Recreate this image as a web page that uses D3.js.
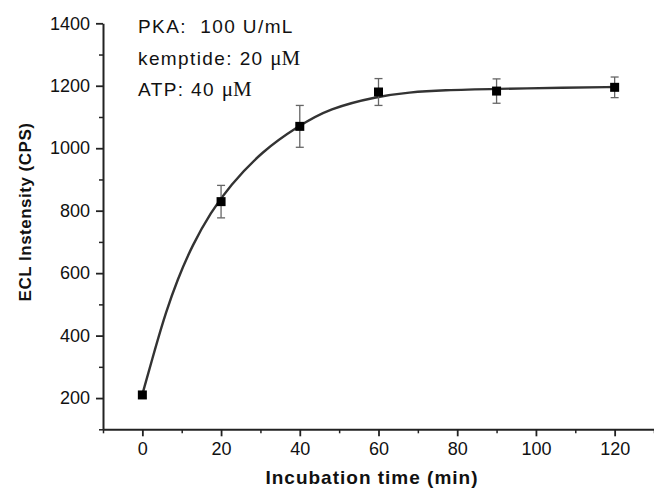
<!DOCTYPE html>
<html>
<head>
<meta charset="utf-8">
<script src="https://cdn.jsdelivr.net/npm/d3@7"></script>
<style>
  body { margin: 0; background: #fff; }
  svg { display: block; font-family: "Liberation Sans", Arial, sans-serif; }
  .axis path, .axis line { stroke: #222; }
  .axis text { font-size: 18px; fill: #111; }
</style>
</head>
<body>
<div id="chart"></div>
<script>
// measured points
var time = [0, 20, 40, 60, 90, 120];
var ecl = [210, 829, 1070, 1180, 1183, 1195];
var err = [10, 52, 67, 43, 39, 33];

// fitted curve
var fitTime = [0, 3.4, 5.9, 8.9, 12.7, 17.4, 22.1, 30.5, 39.8, 47.4, 59.7, 67.8, 76.3, 89.8, 107.6, 120];
var fitEcl = [212, 365, 472, 579, 690, 795, 878, 992, 1072, 1127, 1166, 1179, 1186, 1190, 1194, 1196];

var xTicks = [0, 20, 40, 60, 80, 100, 120];
var xMinor = [-10, 10, 30, 50, 70, 90, 110, 130];
var yTicks = [200, 400, 600, 800, 1000, 1200, 1400];
var yMinor = [100, 300, 500, 700, 900, 1100, 1300];

var notes = [
  ["PKA:  100 U/mL", ""],
  ["kemptide: 20 ", "\u03bcM"],
  ["ATP: 40 ", "\u03bcM"]
];

var width = 654, height = 488;

var svg = d3.select('#chart').append('svg')
    .attr('width', width)
    .attr('height', height);

var x = d3.scaleLinear().domain([-10, 130]).range([103, 654]);
var y = d3.scaleLinear().domain([100, 1400]).range([429.3, 23.3]);

// minor ticks first, majors drawn over
svg.append('g')
    .attr('class', 'axis')
    .attr('transform', `translate(0,${y(100)})`)
    .call(d3.axisBottom(x).tickValues(xMinor).tickSize(4).tickSizeOuter(0).tickFormat(''))
    .call(g => g.select('.domain').remove())
    .selectAll('line').attr('stroke-width', 1.5);

svg.append('g')
    .attr('class', 'axis')
    .attr('transform', `translate(${x(-10)},0)`)
    .call(d3.axisLeft(y).tickValues(yMinor).tickSize(4).tickSizeOuter(0).tickFormat(''))
    .call(g => g.select('.domain').remove())
    .selectAll('line').attr('stroke-width', 1.5);

var xAxis = svg.append('g')
    .attr('class', 'axis')
    .attr('transform', `translate(0,${y(100)})`)
    .call(d3.axisBottom(x).tickValues(xTicks).tickSize(7).tickSizeOuter(0).tickPadding(6).tickFormat(d3.format('d')));
xAxis.select('.domain').attr('stroke-width', 2);
xAxis.selectAll('line').attr('stroke-width', 1.8);

var yAxis = svg.append('g')
    .attr('class', 'axis')
    .attr('transform', `translate(${x(-10)},0)`)
    .call(d3.axisLeft(y).tickValues(yTicks).tickSize(7).tickSizeOuter(0).tickPadding(6).tickFormat(d3.format('d')));
yAxis.select('.domain').attr('stroke-width', 2);
yAxis.selectAll('line').attr('stroke-width', 1.8);

// axis titles
svg.append('text')
    .attr('x', 372)
    .attr('y', 484)
    .attr('text-anchor', 'middle')
    .attr('font-size', 19)
    .attr('font-weight', 'bold')
    .attr('letter-spacing', 1)
    .attr('fill', '#111')
    .text('Incubation time (min)');

svg.append('text')
    .attr('transform', 'translate(31,212) rotate(-90)')
    .attr('text-anchor', 'middle')
    .attr('font-size', 17)
    .attr('font-weight', 'bold')
    .attr('letter-spacing', 0.5)
    .attr('fill', '#111')
    .text('ECL Instensity (CPS)');

// fitted curve
var fit = fitTime.map((t, i) => [t, fitEcl[i]]);
svg.append('path')
    .datum(fit)
    .attr('fill', 'none')
    .attr('stroke', '#333')
    .attr('stroke-width', 2.4)
    .attr('d', d3.line().x(d => x(d[0])).y(d => y(d[1])).curve(d3.curveBasis));

// error bars
var bars = svg.selectAll('g.err')
    .data(time)
    .enter()
    .append('g')
    .attr('class', 'err')
    .attr('stroke', '#666')
    .attr('stroke-width', 1.3);

bars.append('line')
    .attr('x1', d => x(d)).attr('x2', d => x(d))
    .attr('y1', (d, i) => y(ecl[i] - err[i]))
    .attr('y2', (d, i) => y(ecl[i] + err[i]));
bars.append('line')
    .attr('x1', d => x(d) - 4).attr('x2', d => x(d) + 4)
    .attr('y1', (d, i) => y(ecl[i] + err[i]))
    .attr('y2', (d, i) => y(ecl[i] + err[i]));
bars.append('line')
    .attr('x1', d => x(d) - 4).attr('x2', d => x(d) + 4)
    .attr('y1', (d, i) => y(ecl[i] - err[i]))
    .attr('y2', (d, i) => y(ecl[i] - err[i]));

// markers
svg.selectAll('rect.pt')
    .data(time)
    .enter()
    .append('rect')
    .attr('class', 'pt')
    .attr('x', d => x(d) - 4.5)
    .attr('y', (d, i) => y(ecl[i]) - 4.5)
    .attr('width', 9)
    .attr('height', 9)
    .attr('fill', '#000');

// conditions text
var note = svg.append('g').attr('fill', '#111');
notes.forEach(function (n, i) {
    var t = note.append('text')
        .attr('x', 138)
        .attr('y', 33 + i * 31.7)
        .attr('font-size', 19)
        .attr('letter-spacing', 1.4)
        .attr('xml:space', 'preserve')
        .text(n[0]);
    if (n[1]) {
        t.append('tspan')
            .attr('font-family', '"Liberation Serif", "Times New Roman", serif')
            .attr('font-size', 21)
            .attr('letter-spacing', 0)
            .text(n[1]);
    }
});
</script>
</body>
</html>
